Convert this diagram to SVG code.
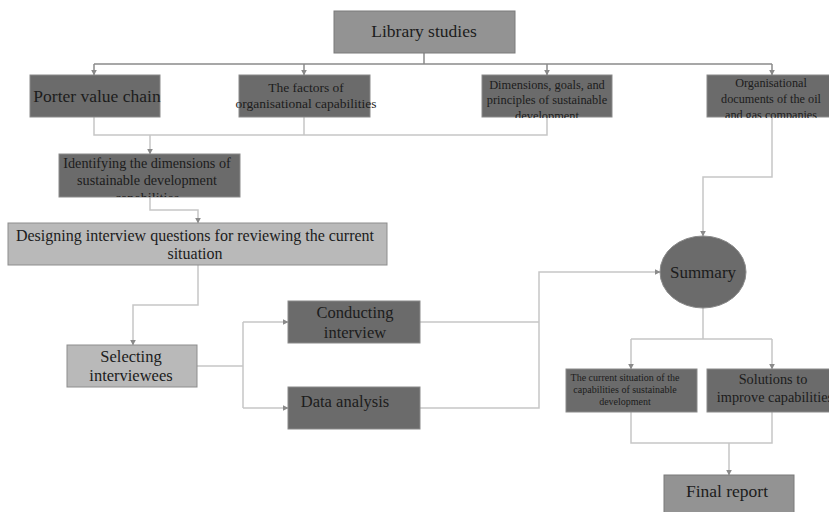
<svg xmlns="http://www.w3.org/2000/svg" width="829" height="512" viewBox="0 0 829 512">
  <style>
    .dark { fill: #6b6b6b; stroke: #8a8a8a; stroke-width: 1; }
    .mid { fill: #939393; stroke: #7a7a7a; stroke-width: 1; }
    .light { fill: #b9b9b9; stroke: #8d8d8d; stroke-width: 1; }
    text { font-family: "Liberation Serif", "Times New Roman", serif; fill: #1c1c1c; text-anchor: middle; }
    .conn { fill: none; stroke: #c6c6c6; stroke-width: 1.5; }
    .top { fill: none; stroke: #8a8a8a; stroke-width: 1.5; }
  </style>
  <defs>
    <marker id="arr" viewBox="0 0 10 10" refX="9" refY="5" markerWidth="6" markerHeight="6" orient="auto" markerUnits="userSpaceOnUse">
      <path d="M0,0 L10,5 L0,10 z" fill="#8a8a8a"/>
    </marker>
    <clipPath id="clipDim"><rect x="470" y="75" width="160" height="43"/></clipPath>
    <clipPath id="clipOrg"><rect x="700" y="75" width="129" height="43"/></clipPath>
    <clipPath id="clipIdent"><rect x="50" y="154" width="200" height="43"/></clipPath>
  </defs>

  <!-- connectors -->
  <g id="connectors">
    <path class="top" d="M424,53 V64"/>
    <path class="top" d="M94,64 H772"/>
    <path class="top" d="M94,64 V75" marker-end="url(#arr)"/>
    <path class="top" d="M304,64 V75" marker-end="url(#arr)"/>
    <path class="top" d="M547,64 V75" marker-end="url(#arr)"/>
    <path class="top" d="M772,64 V75" marker-end="url(#arr)"/>

    <path class="conn" d="M94,117 V135 H547 V117"/>
    <path class="conn" d="M304,117 V135"/>
    <path class="conn" d="M150,135 V154" marker-end="url(#arr)"/>

    <path class="conn" d="M150,197 V210 H198 V223" marker-end="url(#arr)"/>
    <path class="conn" d="M198,265 V305 H133 V345" marker-end="url(#arr)"/>

    <path class="conn" d="M197,366 H243"/>
    <path class="conn" d="M243,322 V408"/>
    <path class="conn" d="M243,322 H288" marker-end="url(#arr)"/>
    <path class="conn" d="M243,408 H288" marker-end="url(#arr)"/>

    <path class="conn" d="M420,322 H539"/>
    <path class="conn" d="M420,408 H539 V272 H660" marker-end="url(#arr)"/>

    <path class="conn" d="M772,117 V177 H703 V236" marker-end="url(#arr)"/>

    <path class="conn" d="M703,308 V339"/>
    <path class="conn" d="M631,339 H772"/>
    <path class="conn" d="M631,339 V369" marker-end="url(#arr)"/>
    <path class="conn" d="M772,339 V369" marker-end="url(#arr)"/>

    <path class="conn" d="M631,412 V443 H772 V412"/>
    <path class="conn" d="M729,443 V475" marker-end="url(#arr)"/>
  </g>

  <g id="library">
    <rect class="mid" x="334" y="11" width="181" height="42"/>
    <text x="424" y="37" font-size="17.5">Library studies</text>
  </g>

  <g id="porter">
    <rect class="dark" x="30" y="75" width="130" height="42"/>
    <text x="97" y="102" font-size="17.5">Porter value chain</text>
  </g>

  <g id="factors">
    <rect class="dark" x="239" y="75" width="131" height="42"/>
    <text x="306" y="92" font-size="13.5">The factors of</text>
    <text x="306" y="108" font-size="13.5">organisational capabilities</text>
  </g>

  <g id="dimensions">
    <rect class="dark" x="482" y="75" width="130" height="42"/>
    <g clip-path="url(#clipDim)">
      <text x="547" y="89" font-size="12.4">Dimensions, goals, and</text>
      <text x="547" y="104" font-size="12.4">principles of sustainable</text>
      <text x="547" y="120" font-size="12.4">development</text>
    </g>
  </g>

  <g id="documents">
    <rect class="dark" x="707" y="75" width="124" height="42"/>
    <g clip-path="url(#clipOrg)">
      <text x="771" y="87" font-size="12.2">Organisational</text>
      <text x="771" y="103" font-size="12.2">documents of the oil</text>
      <text x="771" y="119" font-size="12.2">and gas companies</text>
    </g>
  </g>

  <g id="identifying">
    <rect class="dark" x="59" y="154" width="181" height="43"/>
    <g clip-path="url(#clipIdent)">
      <text x="147" y="168" font-size="14.2">Identifying the dimensions of</text>
      <text x="147" y="185" font-size="14.2">sustainable development</text>
      <text x="147" y="203" font-size="14.2">capabilities</text>
    </g>
  </g>

  <g id="designing">
    <rect class="light" x="8" y="223" width="379" height="42"/>
    <text x="195" y="241" font-size="16">Designing interview questions for reviewing the current</text>
    <text x="195" y="259" font-size="16">situation</text>
  </g>

  <g id="selecting">
    <rect class="light" x="67" y="345" width="130" height="42"/>
    <text x="131" y="362" font-size="16.5">Selecting</text>
    <text x="131" y="381" font-size="16.5">interviewees</text>
  </g>

  <g id="conducting">
    <rect class="dark" x="288" y="301" width="132" height="42"/>
    <text x="355" y="318" font-size="16.5">Conducting</text>
    <text x="355" y="338" font-size="16.5">interview</text>
  </g>

  <g id="analysis">
    <rect class="dark" x="288" y="387" width="132" height="42"/>
    <text x="345" y="407" font-size="16.5">Data analysis</text>
  </g>

  <g id="summary">
    <ellipse class="dark" cx="703" cy="272" rx="43" ry="36"/>
    <text x="703" y="278" font-size="17">Summary</text>
  </g>

  <g id="current">
    <rect class="dark" x="566" y="369" width="131" height="43"/>
    <text x="625" y="381" font-size="10">The current situation of the</text>
    <text x="625" y="393" font-size="10">capabilities of sustainable</text>
    <text x="625" y="405" font-size="10">development</text>
  </g>

  <g id="solutions">
    <rect class="dark" x="707" y="369" width="124" height="43"/>
    <text x="773" y="384" font-size="14.3">Solutions to</text>
    <text x="775" y="402" font-size="14.3">improve capabilities</text>
  </g>

  <g id="final">
    <rect class="mid" x="664" y="475" width="130" height="40"/>
    <text x="727" y="497" font-size="17.5">Final report</text>
  </g>
</svg>
